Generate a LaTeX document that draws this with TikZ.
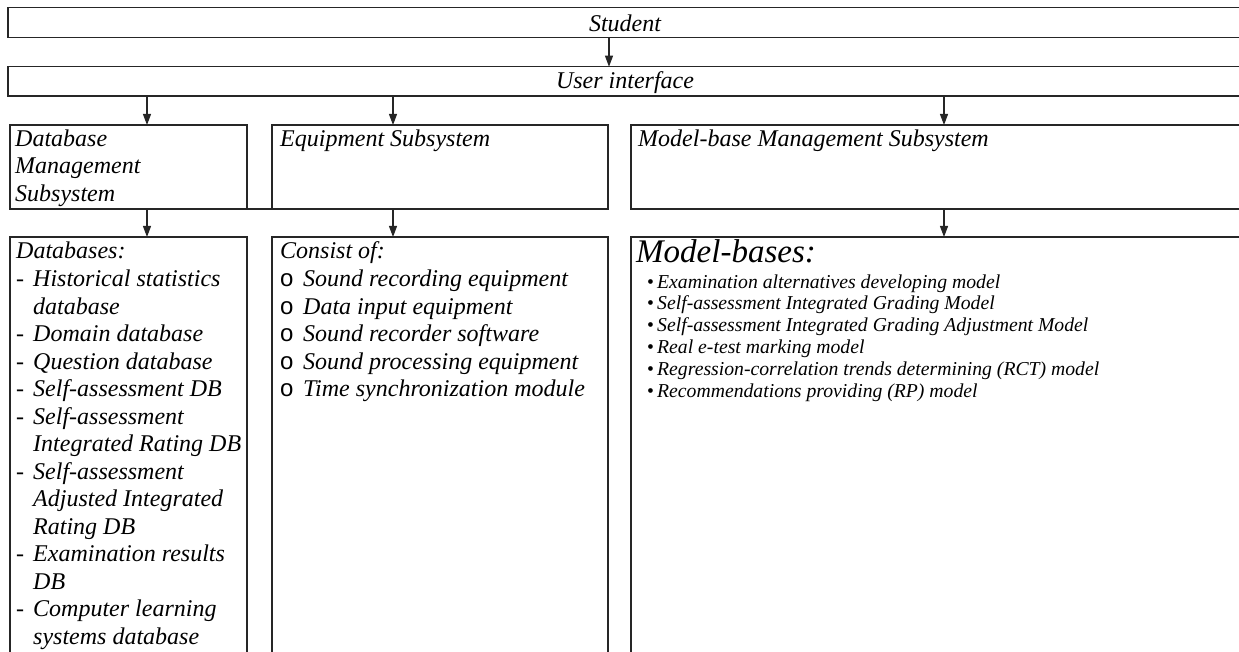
\documentclass[tikz,border=0pt]{standalone}
\usepackage{fontspec}
\setmainfont{Liberation Serif}
\newfontfamily\bulletfont{Liberation Sans}
\usetikzlibrary{arrows.meta}

% list markers
\newcommand\dashitem[1]{\makebox[17pt][l]{-}#1}
\newcommand\contitem[1]{\hspace*{17pt}#1}
\newcommand\oitem[1]{\makebox[23pt][l]{\bulletfont\upshape o}#1}
\newcommand\dotitem[1]{\makebox[10pt][l]{\upshape •}#1}

\begin{document}
\begin{tikzpicture}[x=1pt,y=-1pt,
  frame/.style={draw=black!85, line width=1.1pt},
  box/.style={frame, rectangle, anchor=north west, inner sep=0pt, outer sep=0pt},
  arr/.style={draw=black!85, line width=1.1pt, -{Triangle[length=11pt,width=8pt]}},
  txt/.style={anchor=base west, inner sep=0pt, font=\fontsize{24}{27.5}\selectfont\itshape},
  ctxt/.style={anchor=base, inner sep=0pt, font=\fontsize{24}{27.5}\selectfont\itshape},
  small/.style={anchor=base west, inner sep=0pt, font=\fontsize{19.7}{21.85}\selectfont\itshape},
  big/.style={anchor=base west, inner sep=0pt, font=\fontsize{33}{38}\selectfont\itshape},
]
\useasboundingbox (0,0) rectangle (1239,652);
\clip (0,0) rectangle (1239,652);

% top bars
\node[box, minimum width=1234pt, minimum height=30pt] (student) at (8,7.5) {};
\node[box, minimum width=1234pt, minimum height=29.3pt] (ui) at (8,66.7) {};
\node[ctxt] (studentlbl) at (625,31.5) {Student};
\node[ctxt] (uilbl) at (625,89) {User interface};

% subsystems
\node[box, minimum width=237pt, minimum height=84pt] (dbms) at (10,125) {};
\node[box, minimum width=336pt, minimum height=84pt] (equip) at (272,125) {};
\node[box, minimum width=640pt, minimum height=84pt] (mbms) at (631,125) {};
\draw[frame] (dbms.south east) -- (equip.south west);

% contents (open at the bottom)
\node[box, minimum width=237pt, minimum height=440pt] (dbs) at (10,237) {};
\node[box, minimum width=336pt, minimum height=440pt] (parts) at (272,237) {};
\node[box, minimum width=640pt, minimum height=440pt] (models) at (631,237) {};

% connectors
\draw[arr] ([xshift=601pt]student.south west) -- ([xshift=601pt]ui.north west);
\draw[arr] ([xshift=139pt]ui.south west) -- ([xshift=137pt]dbms.north west);
\draw[arr] ([xshift=385pt]ui.south west) -- ([xshift=121pt]equip.north west);
\draw[arr] ([xshift=936pt]ui.south west) -- ([xshift=313pt]mbms.north west);
\draw[arr] ([xshift=137pt]dbms.south west) -- ([xshift=137pt]dbs.north west);
\draw[arr] ([xshift=121pt]equip.south west) -- ([xshift=121pt]parts.north west);
\draw[arr] ([xshift=313pt]mbms.south west) -- ([xshift=313pt]models.north west);

% subsystem titles
\foreach \t [count=\i from 0] in {Database, Management, Subsystem}
  \node[txt] (dbms-l\i) at (15,{146.5+27.5*\i}) {\t};
\node[txt] (equip-l0) at (280,146.5) {Equipment Subsystem};
\node[txt] (mbms-l0) at (638,146.5) {Model-base Management Subsystem};

% databases
\foreach \t [count=\i from 0] in {
  Databases:,
  \dashitem{Historical statistics},
  \contitem{database},
  \dashitem{Domain database},
  \dashitem{Question database},
  \dashitem{Self-assessment DB},
  \dashitem{Self-assessment},
  \contitem{Integrated Rating DB},
  \dashitem{Self-assessment},
  \contitem{Adjusted Integrated},
  \contitem{Rating DB},
  \dashitem{Examination results},
  \contitem{DB},
  \dashitem{Computer learning},
  \contitem{systems database}}
  \node[txt] (dbs-l\i) at (16,{259+27.5*\i}) {\t};

% equipment
\foreach \t [count=\i from 0] in {
  Consist of:,
  \oitem{Sound recording equipment},
  \oitem{Data input equipment},
  \oitem{Sound recorder software},
  \oitem{Sound processing equipment},
  \oitem{Time synchronization module}}
  \node[txt] (parts-l\i) at (280,{259+27.5*\i}) {\t};

% model bases
\node[big] (models-l0) at (636,263) {Model-bases:};
\foreach \t [count=\i from 1] in {
  \dotitem{Examination alternatives developing model},
  \dotitem{Self-assessment Integrated Grading Model},
  \dotitem{Self-assessment Integrated Grading Adjustment Model},
  \dotitem{Real e-test marking model},
  \dotitem{Regression-correlation trends determining (RCT) model},
  \dotitem{Recommendations providing (RP) model}}
  \node[small] (models-l\i) at (647,{288+21.85*(\i-1)}) {\t};
\end{tikzpicture}
\end{document}
